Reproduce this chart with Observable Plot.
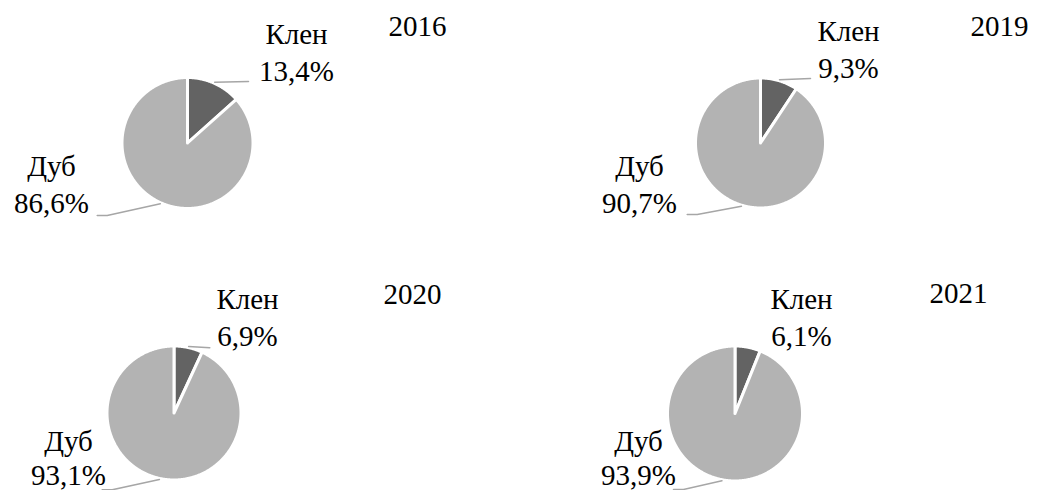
<!DOCTYPE html>
<html>
<head>
<meta charset="utf-8">
<script src="https://cdn.jsdelivr.net/npm/d3@7"></script>
<script src="https://cdn.jsdelivr.net/npm/@observablehq/plot@0.6"></script>
<style>
  html, body { margin: 0; padding: 0; background: #ffffff; }
  #chart { width: 1042px; height: 490px; }
</style>
</head>
<body>
<div id="chart"></div>
<script>
// ---- data ----
const years = ["2016", "2019", "2020", "2021"];
const species = ["Клен", "Дуб"];
const klenShare = [13.4, 9.3, 6.9, 6.1];
const dubShare = [86.6, 90.7, 93.1, 93.9];

// ---- layout (pixel positions, not data) ----
const layout = [
  {cx: 187,   cy: 142.5, r: 64,   yearX: 417, yearY: 35,
   klen: {x: 296, y: 43,  gap: 37, leader: [[248, 81]]},
   dub:  {x: 51,  y: 175, gap: 37, leader: [[106.7, 215], [96.7, 215]]}},
  {cx: 760,   cy: 142.5, r: 63.5, yearX: 999, yearY: 35,
   klen: {x: 848, y: 40,  gap: 37, leader: [[810, 78]]},
   dub:  {x: 639, y: 175, gap: 37, leader: [[696.7, 214], [686.7, 214]]}},
  {cx: 173.5, cy: 412.5, r: 65.5, yearX: 412, yearY: 303,
   klen: {x: 247, y: 308, gap: 37, leader: [[209.3, 347.3]]},
   dub:  {x: 68,  y: 450, gap: 34, leader: [[111.7, 489.3], [101.7, 489.3]]}},
  {cx: 734.5, cy: 413,   r: 66,   yearX: 958, yearY: 302,
   klen: {x: 801, y: 308, gap: 37, leader: null},
   dub:  {x: 638, y: 450, gap: 34, leader: [[683, 489], [673, 489]]}}
];
const sliceColors = ["#636363", "#b3b3b3"];
const fmt = v => v.toFixed(1).replace(".", ",") + "%";

// ---- build geometry from data ----
const sliceRows = [];
const leaderRows = [];
const textRows = [];
const pie = d3.pie().sort(null).value(d => d.v);

years.forEach((yr, i) => {
  const L = layout[i];
  const vals = [{s: species[0], v: klenShare[i]}, {s: species[1], v: dubShare[i]}];
  const arcs = pie(vals);
  const R = L.r + 1.5; // white stroke eats half its width
  arcs.forEach((a, j) => {
    const key = yr + "-" + a.data.s;
    sliceRows.push({x: L.cx, y: L.cy, key, sp: a.data.s});
    const n = Math.max(2, Math.ceil((a.endAngle - a.startAngle) / (Math.PI / 360)));
    for (let k = 0; k <= n; k++) {
      const t = a.startAngle + (a.endAngle - a.startAngle) * k / n;
      sliceRows.push({x: L.cx + R * Math.sin(t), y: L.cy - R * Math.cos(t), key, sp: a.data.s});
    }
    sliceRows.push({x: L.cx, y: L.cy, key, sp: a.data.s});

    const lab = j === 0 ? L.klen : L.dub;
    if (lab.leader) {
      const mid = (a.startAngle + a.endAngle) / 2;
      const r0 = L.r + 2.5;
      leaderRows.push({x: L.cx + r0 * Math.sin(mid), y: L.cy - r0 * Math.cos(mid), key});
      lab.leader.forEach(p => leaderRows.push({x: p[0], y: p[1], key}));
    }
    textRows.push({x: lab.x, y: lab.y, t: a.data.s});
    textRows.push({x: lab.x, y: lab.y + lab.gap, t: fmt(a.data.v)});
  });
  textRows.push({x: L.yearX, y: L.yearY, t: yr});
});

const chart = Plot.plot({
  width: 1042,
  height: 490,
  margin: 0,
  x: {domain: [0, 1042], range: [0, 1042], axis: null},
  y: {domain: [0, 490], range: [0, 490], axis: null},
  color: {domain: species, range: sliceColors},
  style: {background: "#ffffff", overflow: "visible"},
  marks: [
    Plot.line(sliceRows, {x: "x", y: "y", z: "key", fill: "sp", stroke: "#ffffff",
      strokeWidth: 3, strokeLinejoin: "round", curve: "linear"}),
    Plot.line(leaderRows, {x: "x", y: "y", z: "key", stroke: "#a6a6a6", strokeWidth: 1.5}),
    Plot.text(textRows, {x: "x", y: "y", text: "t", fill: "#000000", fontSize: 29,
      fontFamily: "'Liberation Serif', 'Times New Roman', serif",
      textAnchor: "middle", lineAnchor: "bottom"})
  ]
});
document.getElementById("chart").appendChild(chart);
</script>
</body>
</html>
